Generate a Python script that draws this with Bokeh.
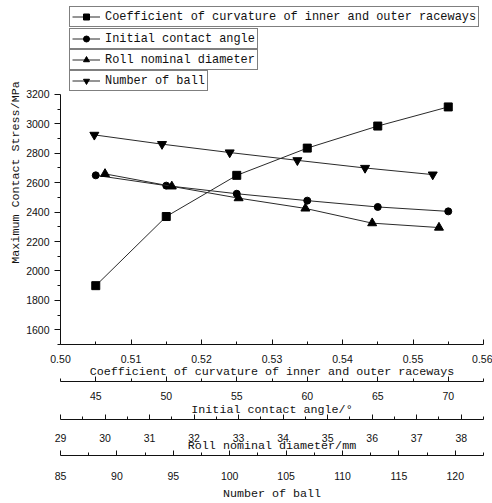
from bokeh.plotting import figure
from bokeh.models import Range1d, LinearAxis, FixedTicker, PrintfTickFormatter, Legend, LegendItem
from bokeh.core.properties import value
from bokeh.embed import file_html
from bokeh.resources import INLINE

# ---- data ----
curv_x = [0.505, 0.515, 0.525, 0.535, 0.545, 0.555]
curv_y = [1900, 2370, 2650, 2835, 2985, 3115]

angle_x = [45, 50, 55, 60, 65, 70]
angle_y = [2650, 2580, 2525, 2478, 2435, 2405]

roll_x = [30, 31.5, 33, 34.5, 36, 37.5]
roll_y = [2660, 2575, 2495, 2425, 2325, 2295]

ball_x = [88, 94, 100, 106, 112, 118]
ball_y = [2925, 2862, 2805, 2752, 2700, 2655]

series_names = [
    "Coefficient of curvature of inner and outer raceways",
    "Initial contact angle",
    "Roll nominal diameter",
    "Number of ball",
]

y_ticks = [1600, 1800, 2000, 2200, 2400, 2600, 2800, 3000, 3200]
y_minor = [1500, 1700, 1900, 2100, 2300, 2500, 2700, 2900, 3100]
curv_ticks = [0.50, 0.51, 0.52, 0.53, 0.54, 0.55, 0.56]
curv_minor = [0.505, 0.515, 0.525, 0.535, 0.545, 0.555]
angle_ticks = [45, 50, 55, 60, 65, 70]
angle_minor = [42.5, 47.5, 52.5, 57.5, 62.5, 67.5, 72.5]
roll_ticks = [29, 30, 31, 32, 33, 34, 35, 36, 37, 38]
roll_minor = [29.5, 30.5, 31.5, 32.5, 33.5, 34.5, 35.5, 36.5, 37.5, 38.5]
ball_ticks = [85, 90, 95, 100, 105, 110, 115, 120]
ball_minor = [87.5, 92.5, 97.5, 102.5, 107.5, 112.5, 117.5, 122.5]

axis_titles = [
    "Coefficient of curvature of inner and outer raceways",
    "Initial contact angle/°",
    "Roll nominal diameter/mm",
    "Number of ball",
]
y_title = "Maximum Contact Stress/MPa"

TICK_FONT = "Liberation Sans"
TICK_SIZE = "10.5px"
TITLE_FONT = "Liberation Mono"
TITLE_SIZE = "11.7px"
LEGEND_SIZE = "11.9px"
INK = "#111111"

# layout geometry (pixels)
W, H = 492, 503
FRAME_BOTTOM = 340.6      # screen y of the x axis line
Y_TOP_PX = 93.0           # screen y where 3200 sits
Y_LO, Y_HI = 1500, 3200
# the frame reaches the top of the canvas so that the legend boxes can sit above the axis
y_end = Y_LO + (Y_HI - Y_LO) * FRAME_BOTTOM / (FRAME_BOTTOM - Y_TOP_PX)

p = figure(width=W, height=H,
           x_range=Range1d(0.50, 0.56), y_range=Range1d(Y_LO, y_end),
           output_backend="svg", toolbar_location=None,
           min_border_left=60, min_border_right=9, min_border_top=0, min_border_bottom=0)
p.extra_x_ranges = {
    "angle": Range1d(42.5, 72.5),
    "roll": Range1d(29, 38.5),
    "ball": Range1d(85, 122.5),
}
p.outline_line_color = None
p.grid.visible = False
p.background_fill_color = "white"
p.border_fill_color = "white"


def style_bottom(ax, title, s1, s2):
    ax.major_tick_in = 5
    ax.major_tick_out = 0
    ax.minor_tick_in = 3
    ax.minor_tick_out = 0
    ax.axis_line_color = INK
    ax.major_tick_line_color = INK
    ax.minor_tick_line_color = INK
    ax.major_label_text_font = TICK_FONT
    ax.major_label_text_font_size = TICK_SIZE
    ax.major_label_text_color = INK
    ax.major_label_standoff = s1
    ax.axis_label = title
    ax.axis_label_text_font = TITLE_FONT
    ax.axis_label_text_font_size = TITLE_SIZE
    ax.axis_label_text_font_style = "normal"
    ax.axis_label_text_color = INK
    ax.axis_label_standoff = s2


def spacer(h):
    return LinearAxis(ticker=FixedTicker(ticks=[]), major_tick_out=h, major_tick_in=0,
                      minor_tick_out=0, minor_tick_in=0,
                      major_tick_line_color=None, minor_tick_line_color=None,
                      axis_line_color=None, major_label_standoff=0)


# main x axis
xa = p.xaxis[0]
xa.ticker = FixedTicker(ticks=curv_ticks, minor_ticks=curv_minor)
xa.formatter = PrintfTickFormatter(format="%.2f")
style_bottom(xa, axis_titles[0], 10, -1)

p.add_layout(spacer(21), "below")

ax_angle = LinearAxis(x_range_name="angle", ticker=FixedTicker(ticks=angle_ticks, minor_ticks=angle_minor))
style_bottom(ax_angle, axis_titles[1], 10, 0)
p.add_layout(ax_angle, "below")

p.add_layout(spacer(18), "below")

ax_roll = LinearAxis(x_range_name="roll", ticker=FixedTicker(ticks=roll_ticks, minor_ticks=roll_minor))
style_bottom(ax_roll, axis_titles[2], 14, -6)
p.add_layout(ax_roll, "below")

p.add_layout(spacer(17), "below")

ax_ball = LinearAxis(x_range_name="ball", ticker=FixedTicker(ticks=ball_ticks, minor_ticks=ball_minor))
style_bottom(ax_ball, axis_titles[3], 16, 4)
p.add_layout(ax_ball, "below")

# y axis (drawn only over 1500..3200)
ya = p.yaxis[0]
ya.bounds = (Y_LO, Y_HI)
ya.ticker = FixedTicker(ticks=y_ticks, minor_ticks=y_minor)
ya.major_tick_out = 6
ya.major_tick_in = 0
ya.minor_tick_out = 3
ya.minor_tick_in = 0
ya.axis_line_color = INK
ya.major_tick_line_color = INK
ya.minor_tick_line_color = INK
ya.major_label_text_font = TICK_FONT
ya.major_label_text_font_size = TICK_SIZE
ya.major_label_text_color = INK
ya.major_label_standoff = 5
ya.axis_label = y_title
ya.axis_label_text_font = TITLE_FONT
ya.axis_label_text_font_size = TITLE_SIZE
ya.axis_label_text_font_style = "normal"
ya.axis_label_text_color = INK
ya.axis_label_standoff = 0

LINE = "#2a2a2a"
l1 = p.line(curv_x, curv_y, line_color=LINE, line_width=1)
s1 = p.scatter(curv_x, curv_y, marker="square", size=8, color="black")
l2 = p.line(angle_x, angle_y, x_range_name="angle", line_color=LINE, line_width=1)
s2 = p.scatter(angle_x, angle_y, x_range_name="angle", marker="circle", size=7, color="black")
l3 = p.line(roll_x, roll_y, x_range_name="roll", line_color=LINE, line_width=1)
s3 = p.scatter(roll_x, roll_y, x_range_name="roll", marker="triangle", size=9, color="black")
l4 = p.line(ball_x, ball_y, x_range_name="ball", line_color=LINE, line_width=1)
s4 = p.scatter(ball_x, ball_y, x_range_name="ball", marker="inverted_triangle", size=9, color="black")

# legends: one bordered box per series, stacked above the axis area
renderers = [(l1, s1), (l2, s2), (l3, s3), (l4, s4)]
box_bottoms_px = [24, 46, 67, 88]
for name, (lr, sr), bb in zip(series_names, renderers, box_bottoms_px):
    leg = Legend(items=[LegendItem(label=value(name), renderers=[lr, sr])],
                 location=(9, FRAME_BOTTOM - bb), orientation="vertical",
                 border_line_color="black", border_line_width=1,
                 background_fill_color="white", background_fill_alpha=1.0,
                 padding=2, margin=0, spacing=0,
                 glyph_width=28, glyph_height=15, label_height=15, label_standoff=5,
                 label_text_font=TITLE_FONT, label_text_font_size=LEGEND_SIZE,
                 label_text_color=INK)
    p.add_layout(leg)

open("out.html", "w").write(file_html(p, INLINE))
